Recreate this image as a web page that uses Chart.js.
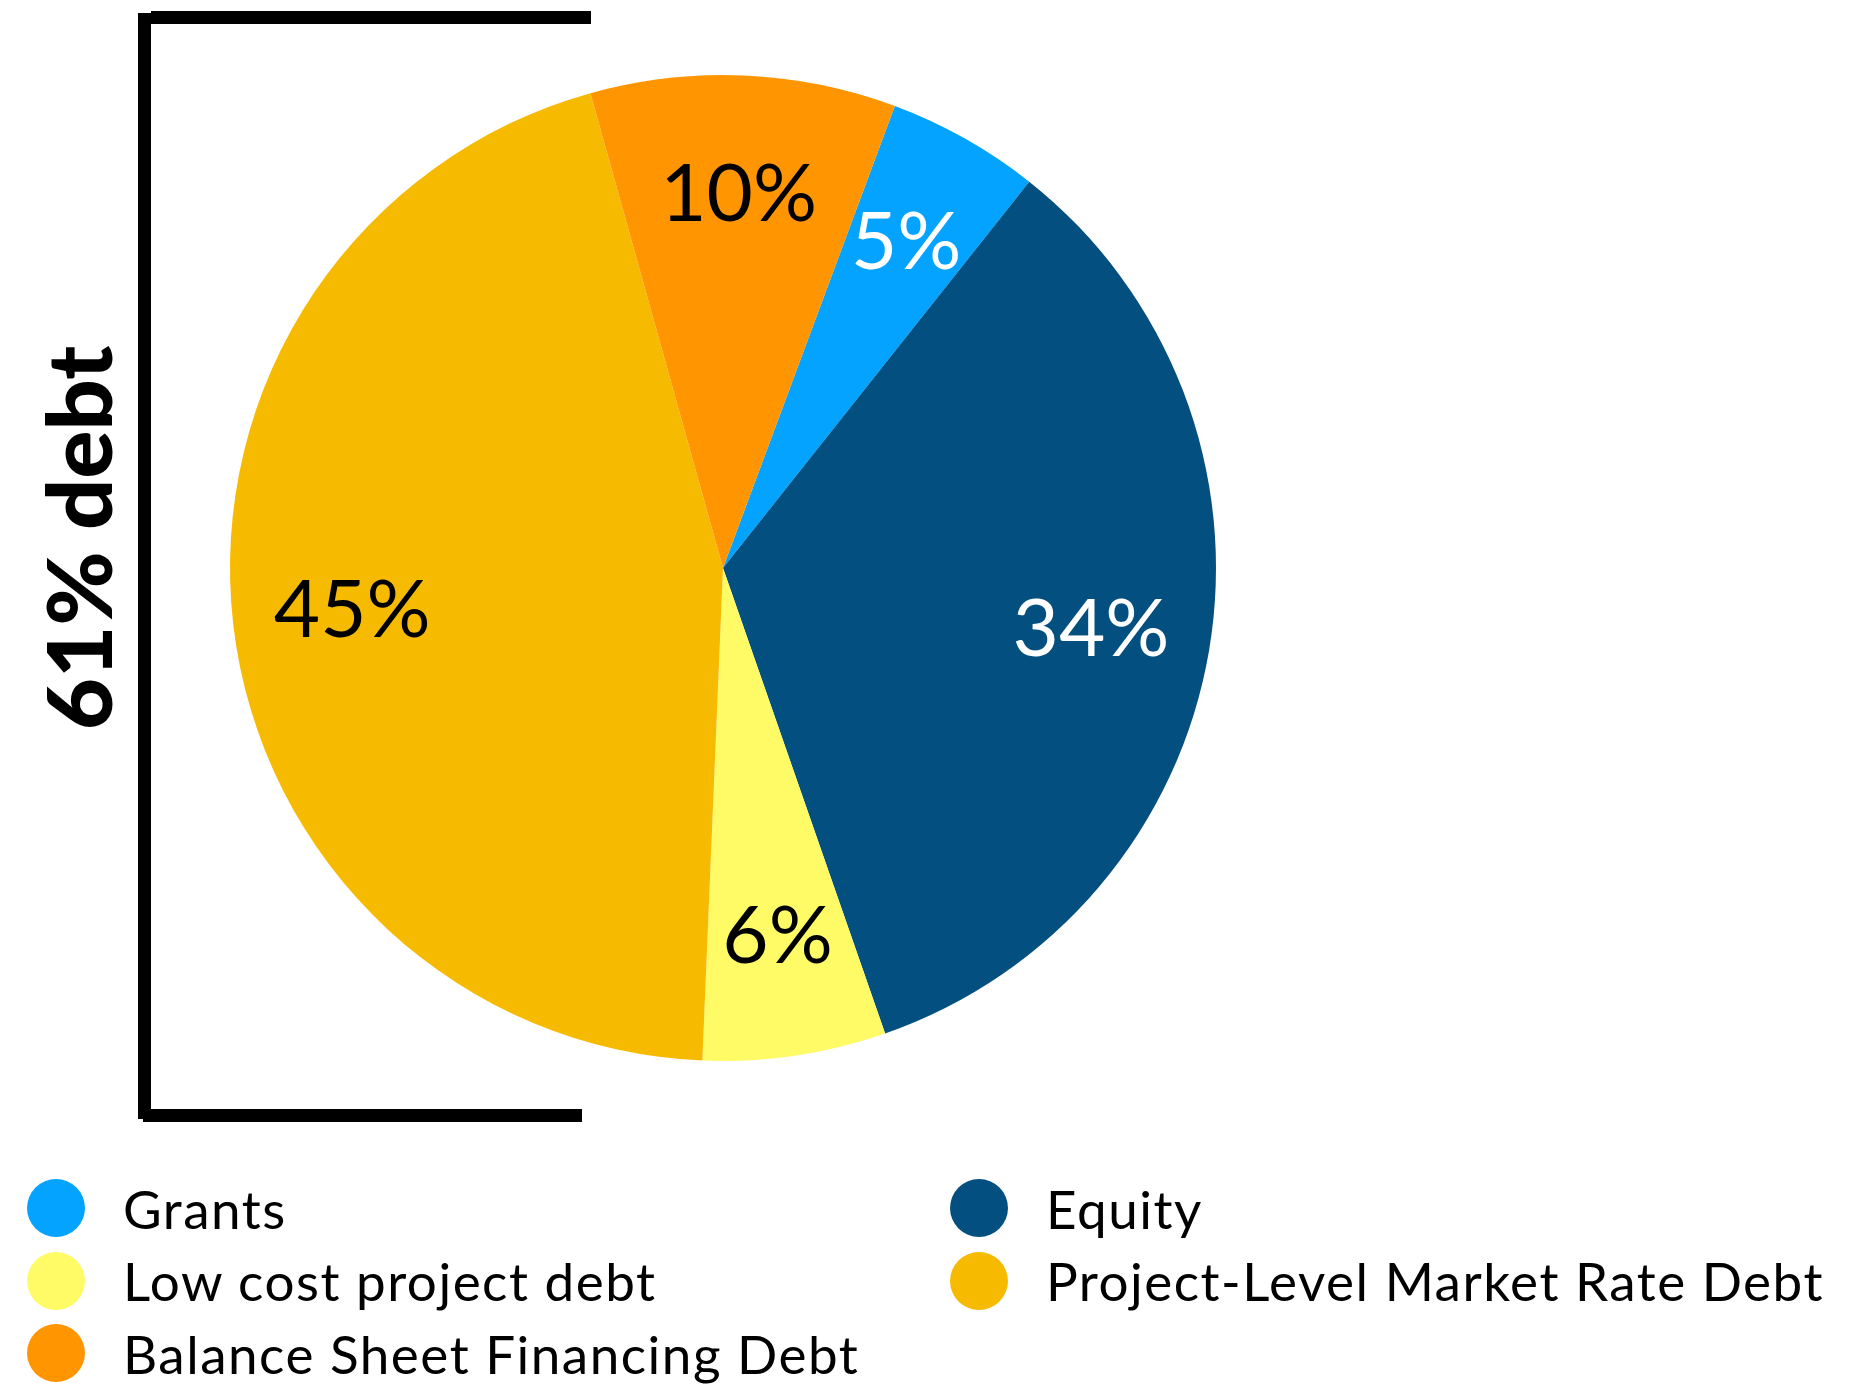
<!DOCTYPE html>
<html>
<head>
<meta charset="utf-8">
<script src="https://cdn.jsdelivr.net/npm/chart.js@4/dist/chart.umd.min.js"></script>
<style>
  html, body { margin: 0; padding: 0; background: #fff; }
  #wrap { position: relative; width: 1870px; height: 1388px; }
  #piechart { position: absolute; left: 0; top: 0; }
  #legend {
    position: absolute; left: 27px; top: 1172px;
    display: grid; grid-template-columns: 923px auto; grid-auto-rows: 72.5px;
    font-family: Lato, sans-serif; font-size: 53px; letter-spacing: 1.5px; color: #000;
  }
  #legend .item { display: flex; align-items: center; white-space: nowrap; }
  #legend .dot { width: 58px; height: 58px; border-radius: 50%; margin-right: 38px; flex: none; }
</style>
</head>
<body>
<div id="wrap">
  <canvas id="piechart" width="1870" height="1388"></canvas>
  <div id="legend"></div>
</div>
<script>
var categories = ['Grants', 'Equity', 'Low cost project debt', 'Project-Level Market Rate Debt', 'Balance Sheet Financing Debt'];
var shares = [5, 34, 6, 45, 10];
var colors = ['#03a3ff', '#034f80', '#fffb66', '#f6bb00', '#ff9500'];
var labelColors = ['#fff', '#fff', '#000', '#000', '#000'];
var bracketText = '61% debt';

// percentage text inside each slice, at 3/4 of the radius
var sliceLabels = {
  id: 'sliceLabels',
  afterDatasetsDraw: function(chart) {
    var ctx = chart.ctx;
    var meta = chart.getDatasetMeta(0);
    ctx.save();
    ctx.font = '400 80px Lato, sans-serif';
    ctx.textAlign = 'center';
    ctx.textBaseline = 'middle';
    meta.data.forEach(function(arc, i) {
      var p = arc.getProps(['x', 'y', 'startAngle', 'endAngle', 'outerRadius'], true);
      var mid = (p.startAngle + p.endAngle) / 2;
      var r = p.outerRadius * 0.757;
      ctx.fillStyle = labelColors[i];
      ctx.fillText(shares[i] + '%', p.x + Math.cos(mid) * r, p.y + Math.sin(mid) * r);
    });
    ctx.restore();
  }
};

// bracket on the left with the rotated caption
var debtBracket = {
  id: 'debtBracket',
  afterDraw: function(chart) {
    var ctx = chart.ctx;
    var arc = chart.getDatasetMeta(0).data[0];
    var p = arc.getProps(['x', 'y', 'outerRadius'], true);
    var left = p.x - p.outerRadius - 92;
    var top = p.y - p.outerRadius - 64;
    var bottom = p.y + p.outerRadius + 61;
    ctx.save();
    ctx.fillStyle = '#000';
    ctx.fillRect(left, top + 2, 13, bottom - top - 5);
    ctx.fillRect(left + 13, top, 440, 13);
    ctx.fillRect(left + 5, bottom - 13, 439, 13);
    ctx.translate(left - 26, p.y - 30);
    ctx.rotate(-Math.PI / 2);
    ctx.font = '900 90px Lato, sans-serif';
    ctx.textAlign = 'center';
    ctx.textBaseline = 'alphabetic';
    ctx.fillText(bracketText, 0, 0);
    ctx.restore();
  }
};

var ctx = document.getElementById('piechart').getContext('2d');
var myChart = new Chart(ctx, {
  type: 'pie',
  data: {
    labels: categories,
    datasets: [{
      data: shares,
      backgroundColor: colors,
      borderWidth: 0
    }]
  },
  options: {
    responsive: false,
    animation: false,
    rotation: 20.4,
    layout: { padding: { left: 230, right: 654, top: 75, bottom: 327 } },
    plugins: {
      legend: { display: false },
      tooltip: { enabled: false }
    }
  },
  plugins: [sliceLabels, debtBracket]
});

// two-column legend below the pie
var legend = document.getElementById('legend');
categories.forEach(function(name, i) {
  var item = document.createElement('div');
  item.className = 'item';
  var dot = document.createElement('span');
  dot.className = 'dot';
  dot.style.background = colors[i];
  item.appendChild(dot);
  item.appendChild(document.createTextNode(name));
  legend.appendChild(item);
});
</script>
</body>
</html>
